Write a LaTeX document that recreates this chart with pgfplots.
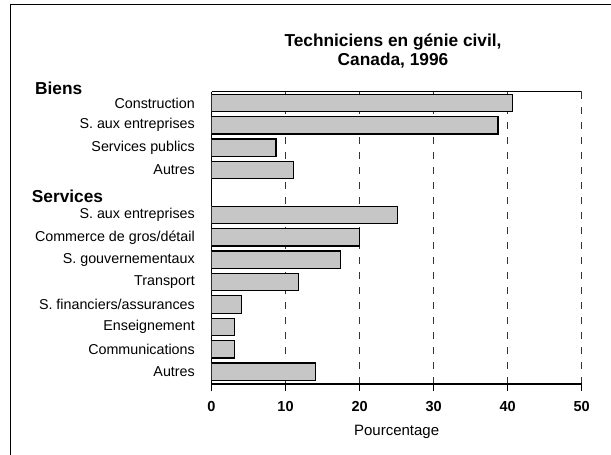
\documentclass[border=0pt]{standalone}
\usepackage{fontspec}
\setmainfont{Liberation Sans}
\usepackage{pgfplots}
\pgfplotsset{compat=1.18}
\begin{document}
\begin{tikzpicture}[x=1bp,y=1bp]
\useasboundingbox (0,0) rectangle (611,-455);
\draw[line width=1.3bp] (10.5,-460) -- (10.5,-4.5) -- (615,-4.5);
\node[anchor=base, font=\fontsize{17.3bp}{20bp}\selectfont\bfseries] at (393,-46.7) {Techniciens en génie civil,};
\node[anchor=base, font=\fontsize{17.3bp}{20bp}\selectfont\bfseries] at (393,-65.7) {Canada, 1996};
\node[anchor=base west, inner sep=0pt, font=\fontsize{17.3bp}{20bp}\selectfont\bfseries] at (35,-95) {Biens};
\node[anchor=base west, inner sep=0pt, font=\fontsize{17.3bp}{20bp}\selectfont\bfseries] at (31.7,-202.3) {Services};
\begin{axis}[
  at={(211.5bp,-384bp)}, anchor=south west,
  scale only axis, width=370.2bp, height=292.3bp,
  xmin=0, xmax=50, ymin=-0.55, ymax=12.5,
  xbar, bar width=0.78, bar shift=0pt,
  axis lines=left, axis line style={-},
  x axis line style={line width=2bp},
  y axis line style={line width=1.3bp},
  xtick={0,10,20,30,40,50},
  tick align=outside, major tick length=7bp,
  xtick style={line width=1.2bp, black},
  ytick style={draw=none},
  ytick={0,1,2,3,4,5,6,7,9,10,11,12},
  yticklabels={Autres, Communications, Enseignement, S. financiers/assurances, Transport, S. gouvernementaux, Commerce de gros/détail, S. aux entreprises, Autres, Services publics, S. aux entreprises, Construction},
  /pgf/number format/assume math mode=true,
  xticklabel style={font=\fontsize{14.5bp}{17bp}\selectfont\bfseries, inner sep=0pt, anchor=north, yshift=-10.5bp},
  yticklabel style={font=\fontsize{14.3bp}{17bp}\selectfont, inner sep=0pt, anchor=east, xshift=-9.5bp},
  xlabel={Pourcentage},
  xlabel style={font=\fontsize{15bp}{18bp}\selectfont, at={(rel axis cs:0.5,0)}, anchor=center, yshift=-47.7bp},
  xmajorgrids,
  grid style={dash pattern=on 7bp off 8bp, line width=1.2bp, black!80},
]
\addplot[fill=gray!45, draw=black, line width=1.2bp] coordinates {
  (40.6,12) (38.7,11) (8.7,10) (11.1,9)
  (25.1,7) (20.0,6) (17.4,5) (11.7,4) (4.1,3) (3.1,2) (3.1,1) (14.0,0)};
\draw[line width=1.3bp] (rel axis cs:0,1) -- (rel axis cs:1,1);
\end{axis}
\end{tikzpicture}
\end{document}
